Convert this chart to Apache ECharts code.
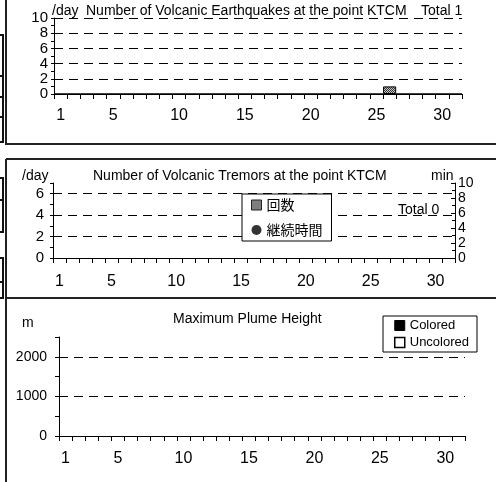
<!DOCTYPE html>
<html>
<head>
<meta charset="utf-8">
<script src="https://cdn.jsdelivr.net/npm/echarts@6/dist/echarts.min.js"></script>
<style>
  html, body { margin: 0; padding: 0; background: #fff; }
  #main { width: 496px; height: 482px; }
</style>
</head>
<body>
<div id="main"></div>
<script>
// days of the month (x axis) and which of them get a label
const days = ["1","2","3","4","5","6","7","8","9","10","11","12","13","14","15","16",
  "17","18","19","20","21","22","23","24","25","26","27","28","29","30","31"]
const dayLabels = ["1", "5", "10", "15", "20", "25", "30"]

// volcanic earthquakes per day
const quakeCounts = [0,0,0,0,0,0,0,0,0,0,0,0,0,0,0,0,0,0,0,0,0,0,0,0,0,1,0,0,0,0,0]
// volcanic tremors per day and their duration (min)
const tremorCounts = [0,0,0,0,0,0,0,0,0,0,0,0,0,0,0,0,0,0,0,0,0,0,0,0,0,0,0,0,0,0,0]
const tremorMinutes = [null,null,null,null,null,null,null,null,null,null,null,null,null,null,null,null,
  null,null,null,null,null,null,null,null,null,null,null,null,null,null,null]
// maximum plume height (m)
const plumeColored = [null,null,null,null,null,null,null,null,null,null,null,null,null,null,null,null,
  null,null,null,null,null,null,null,null,null,null,null,null,null,null,null]
const plumeUncolored = [null,null,null,null,null,null,null,null,null,null,null,null,null,null,null,null,
  null,null,null,null,null,null,null,null,null,null,null,null,null,null,null]

// tick labels and dashed grid lines
const tremorTicks = [0, 2, 4, 6]
const tremorGrid = [2, 4, 6]
const plumeTicks = [0, 1000, 2000]
const plumeGrid = [1000, 2000]

const FONT = "Liberation Sans, Arial, sans-serif"
const CJK = "Noto Sans CJK JP, sans-serif"
const DASH = [9, 6]

// grey hatched fill for the count bars
const pat = document.createElement("canvas")
pat.width = 2
pat.height = 2
const pctx = pat.getContext("2d")
pctx.fillStyle = "#c8c8c8"
pctx.fillRect(0, 0, 2, 2)
pctx.fillStyle = "#333"
pctx.fillRect(0, 0, 1, 1)
pctx.fillRect(1, 1, 1, 1)
const hatch = { image: pat, repeat: "repeat" }

const xAxisBase = (gridIndex, margin) => ({
  type: "category",
  gridIndex: gridIndex,
  data: days,
  boundaryGap: true,
  axisLine: { lineStyle: { color: "#000", width: 1 } },
  axisTick: { show: true, interval: 0, length: 5, lineStyle: { color: "#000" } },
  axisLabel: {
    interval: (i, v) => dayLabels.includes(v),
    color: "#000", fontFamily: FONT, fontSize: 16, margin: margin,
  },
  splitLine: { show: false },
})

const gridMark = (values) => ({
  silent: true,
  symbol: "none",
  label: { show: false },
  animation: false,
  lineStyle: { color: "#000", type: DASH, width: 1 },
  data: values.map((v) => ({ yAxis: v })),
})

const line = (x1, y1, x2, y2, w) => ({
  type: "line",
  shape: { x1, y1, x2, y2 },
  style: { stroke: "#222", lineWidth: w || 2 },
  z: 100,
})
const box = (y, h) => ({
  type: "rect",
  shape: { x: -3, y: y, width: 6, height: h },
  style: { fill: null, stroke: "#111", lineWidth: 2 },
  z: 100,
})

const myE = echarts.init(document.getElementById("main"))
let option = {
  animation: false,
  backgroundColor: "#fff",
  textStyle: { fontFamily: FONT },
  title: [
    { text: "/day", left: 52, top: 4 },
    { text: "Number of Volcanic Earthquakes at the point KTCM", left: 86, top: 4 },
    { text: "Total 1", left: 421, top: 4 },
    { text: "/day", left: 22, top: 169 },
    { text: "Number of Volcanic Tremors at the point KTCM", left: 93, top: 169 },
    { text: "min", left: 431, top: 169 },
    { text: "Total 0", left: 398, top: 203 },
    { text: "m", left: 22, top: 316 },
    { text: "Maximum Plume Height", left: 173, top: 312 },
  ].map((t) => ({
    ...t,
    padding: 0,
    textStyle: { color: "#000", fontFamily: FONT, fontSize: 14, fontWeight: "normal" },
  })),
  legend: [
    {
      left: 242, top: 194,
      orient: "vertical",
      backgroundColor: "#fff",
      borderColor: "#000", borderWidth: 1, borderRadius: 0,
      padding: [4, 9, 4, 9],
      itemGap: 11, itemWidth: 10, itemHeight: 10,
      textStyle: { fontFamily: CJK, fontSize: 14, lineHeight: 14, color: "#000" },
      data: [
        { name: "回数", icon: "rect", itemStyle: { color: hatch, borderColor: "#222", borderWidth: 1 } },
        { name: "継続時間", icon: "circle", itemStyle: { color: "#000" } },
      ],
      selectedMode: false,
      z: 10,
    },
    {
      left: 383, top: 316,
      orient: "vertical",
      backgroundColor: "#fff",
      borderColor: "#000", borderWidth: 1, borderRadius: 0,
      padding: [3, 8, 3, 11],
      itemGap: 4, itemWidth: 10, itemHeight: 10,
      textStyle: { fontFamily: FONT, fontSize: 13, lineHeight: 13, color: "#000" },
      data: [
        { name: "Colored", icon: "rect", itemStyle: { color: "#000", borderColor: "#000", borderWidth: 1 } },
        { name: "Uncolored", icon: "rect", itemStyle: { color: "#fff", borderColor: "#000", borderWidth: 1.5 } },
      ],
      selectedMode: false,
      z: 10,
    },
  ],
  grid: [
    { left: 54, top: 18, width: 408, height: 76 },
    { left: 53, top: 183, width: 402, height: 75 },
    { left: 59, top: 337, width: 406, height: 99 },
  ],
  xAxis: [xAxisBase(0, 14), xAxisBase(1, 16), xAxisBase(2, 15)],
  yAxis: [
    {
      type: "value", gridIndex: 0, min: 0, max: 10, interval: 2,
      axisLine: { show: true, lineStyle: { color: "#000" } },
      axisTick: { show: true, length: 3, lineStyle: { color: "#000" } },
      minorTick: { show: true, splitNumber: 2, length: 3, lineStyle: { color: "#000" } },
      axisLabel: { color: "#000", fontFamily: FONT, fontSize: 15, margin: 6, lineHeight: 14 },
      splitLine: { show: true, showMinLine: false, lineStyle: { color: "#000", type: DASH } },
    },
    {
      type: "value", gridIndex: 1, min: 0, max: 7, interval: 1,
      axisLine: { show: true, lineStyle: { color: "#000" } },
      axisTick: { show: true, length: 3, lineStyle: { color: "#000" } },
      axisLabel: {
        color: "#000", fontFamily: FONT, fontSize: 15, margin: 9,
        formatter: (v) => (tremorTicks.includes(v) ? v : ""),
      },
      splitLine: { show: false },
    },
    {
      type: "value", gridIndex: 1, position: "right", min: 0, max: 10, interval: 2,
      axisLine: { show: true, lineStyle: { color: "#000" } },
      axisTick: { show: true, inside: true, length: 4, lineStyle: { color: "#000" } },
      minorTick: { show: true, splitNumber: 2, length: 3, lineStyle: { color: "#000" } },
      axisLabel: { color: "#000", fontFamily: FONT, fontSize: 14, margin: 3, lineHeight: 13 },
      splitLine: { show: false },
    },
    {
      type: "value", gridIndex: 2, min: 0, max: 2500, interval: 500,
      axisLine: { show: true, lineStyle: { color: "#000" } },
      axisTick: { show: true, length: 4, lineStyle: { color: "#000" } },
      axisLabel: {
        color: "#000", fontFamily: FONT, fontSize: 14, margin: 12,
        formatter: (v) => (plumeTicks.includes(v) ? v : ""),
      },
      splitLine: { show: false },
    },
  ],
  series: [
    {
      name: "地震回数",
      type: "bar",
      xAxisIndex: 0, yAxisIndex: 0,
      barWidth: "100%",
      itemStyle: { color: hatch, borderColor: "#000", borderWidth: 1 },
      data: quakeCounts,
    },
    {
      name: "回数",
      type: "bar",
      xAxisIndex: 1, yAxisIndex: 1,
      barWidth: "100%",
      itemStyle: { color: hatch, borderColor: "#000", borderWidth: 0 },
      markLine: gridMark(tremorGrid),
      data: tremorCounts,
    },
    {
      name: "継続時間",
      type: "scatter",
      xAxisIndex: 1, yAxisIndex: 2,
      symbol: "circle", symbolSize: 8,
      itemStyle: { color: "#000" },
      data: tremorMinutes,
    },
    {
      name: "Colored",
      type: "bar",
      xAxisIndex: 2, yAxisIndex: 3,
      stack: "plume",
      barWidth: "60%",
      itemStyle: { color: "#000", borderColor: "#000", borderWidth: 1 },
      markLine: gridMark(plumeGrid),
      data: plumeColored,
    },
    {
      name: "Uncolored",
      type: "bar",
      xAxisIndex: 2, yAxisIndex: 3,
      stack: "plume",
      barWidth: "60%",
      itemStyle: { color: "#fff", borderColor: "#000", borderWidth: 1 },
      data: plumeUncolored,
    },
  ],
  graphic: [
    // panel frames
    line(6, 0, 6, 145),
    line(6, 144, 496, 144),
    line(6, 159, 496, 159),
    line(6, 159, 6, 299),
    line(6, 298, 496, 298),
    line(6, 298, 6, 482),
    // edge of the neighbouring table
    box(35, 41),
    box(76, 21),
    box(97, 20),
    box(117, 25),
    box(178, 22),
    box(200, 32),
    box(258, 24),
    box(282, 16),
  ],
}
myE.setOption(option)
window.addEventListener("resize", () => {
  myE.resize()
})
</script>
</body>
</html>
